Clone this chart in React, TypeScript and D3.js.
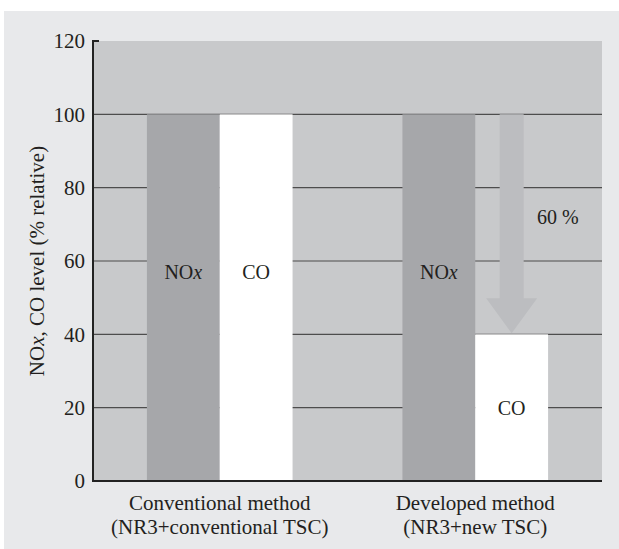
import React from "react";
import * as d3 from "d3";

const groups = ["Conventional", "Developed"];
const groupLines = [
  ["Conventional method", "(NR3+conventional TSC)"],
  ["Developed method", "(NR3+new TSC)"],
];
const series = ["NOx", "CO"];
const noxValues = [100, 100];
const coValues = [100, 40];
const yTicks = [0, 20, 40, 60, 80, 100, 120];
const reductionLabel = "60 %";

const W = 619;
const H = 549;
const FONT = "'Liberation Serif', 'Times New Roman', serif";

export default function App() {
  const x0 = d3.scaleBand<string>().domain(groups).range([93, 602]).paddingInner(0.43).paddingOuter(0.211);
  const x1 = d3.scaleBand<string>().domain(series).range([0, x0.bandwidth()]).padding(0);
  const y = d3.scaleLinear().domain([0, 120]).range([481, 41]);

  const values: Record<string, number[]> = { NOx: noxValues, CO: coValues };
  const colors: Record<string, string> = { NOx: "#a6a7aa", CO: "#ffffff" };

  const gi = 1;
  const ax = (x0(groups[gi]) as number) + (x1("CO") as number) + x1.bandwidth() / 2;
  const yTop = y(noxValues[gi]);
  const yTip = y(coValues[gi]) - 1;
  const headH = 35;
  const shaftW = 24;
  const headW = 51;
  const arrowPath = [
    [ax - shaftW / 2, yTop],
    [ax + shaftW / 2, yTop],
    [ax + shaftW / 2, yTip - headH],
    [ax + headW / 2, yTip - headH],
    [ax, yTip],
    [ax - headW / 2, yTip - headH],
    [ax - shaftW / 2, yTip - headH],
  ];
  const arrowD = d3.line()(arrowPath as [number, number][]) + "Z";

  const [px0, px1] = x0.range();

  return (
    <svg width={W} height={H} style={{ position: "absolute", left: 0, top: 0 }} fontFamily={FONT}>
      <rect x={4} y={11} width={W - 4} height={H - 11} fill="#e8e9eb" />
      <rect x={px0} y={y(120)} width={px1 - px0} height={y(0) - y(120)} fill="#c8c9cb" />
      {yTicks.filter((t) => t > 0 && t < 120).map((t) => (
        <line key={t} x1={px0} x2={px1} y1={y(t)} y2={y(t)} stroke="#4d4d4d" strokeWidth={1.2} />
      ))}
      {groups.map((g, i) =>
        series.map((s) => (
          <rect
            key={g + s}
            x={(x0(g) as number) + (x1(s) as number)}
            y={y(values[s][i])}
            width={x1.bandwidth()}
            height={y(0) - y(values[s][i])}
            fill={colors[s]}
          />
        ))
      )}
      <path d={arrowD} fill="#bcbdc0" />
      <line x1={px0} x2={px0} y1={y(120) - 1} y2={y(0) + 1} stroke="#222" strokeWidth={2} />
      <line x1={px0} x2={px1} y1={y(0)} y2={y(0)} stroke="#222" strokeWidth={2} />
      <line x1={px0} x2={px0 + 6} y1={y(120)} y2={y(120)} stroke="#222" strokeWidth={2} />
      {yTicks.map((t) => (
        <text key={t} x={85} y={y(t)} dy="0.35em" textAnchor="end" fontSize={21} fill="#231f20">
          {t}
        </text>
      ))}
      <text
        transform={`translate(37, ${(y(0) + y(120)) / 2}) rotate(-90)`}
        textAnchor="middle"
        dy="0.35em"
        fontSize={21}
        fill="#231f20"
      >
        NO<tspan fontStyle="italic">x</tspan>, CO level (% relative)
      </text>
      {groups.map((g, i) => {
        const cx = (x0(g) as number) + x0.bandwidth() / 2;
        return (
          <g key={g}>
            <text x={cx} y={y(0) + 29} textAnchor="middle" fontSize={21} fill="#231f20">
              {groupLines[i][0]}
            </text>
            <text x={cx} y={y(0) + 53} textAnchor="middle" fontSize={21} fill="#231f20">
              {groupLines[i][1]}
            </text>
          </g>
        );
      })}
      {groups.map((g, i) => (
        <g key={g + "lbl"}>
          <text
            x={(x0(g) as number) + (x1("NOx") as number) + x1.bandwidth() / 2}
            y={y(57)}
            dy="0.35em"
            textAnchor="middle"
            fontSize={20}
            fill="#231f20"
          >
            NO<tspan fontStyle="italic">x</tspan>
          </text>
          <text
            x={(x0(g) as number) + (x1("CO") as number) + x1.bandwidth() / 2}
            y={i === 0 ? y(57) : y(20)}
            dy="0.35em"
            textAnchor="middle"
            fontSize={20}
            fill="#231f20"
          >
            CO
          </text>
        </g>
      ))}
      <text x={537} y={y(72)} dy="0.35em" fontSize={20} fill="#231f20">
        {reductionLabel}
      </text>
    </svg>
  );
}
